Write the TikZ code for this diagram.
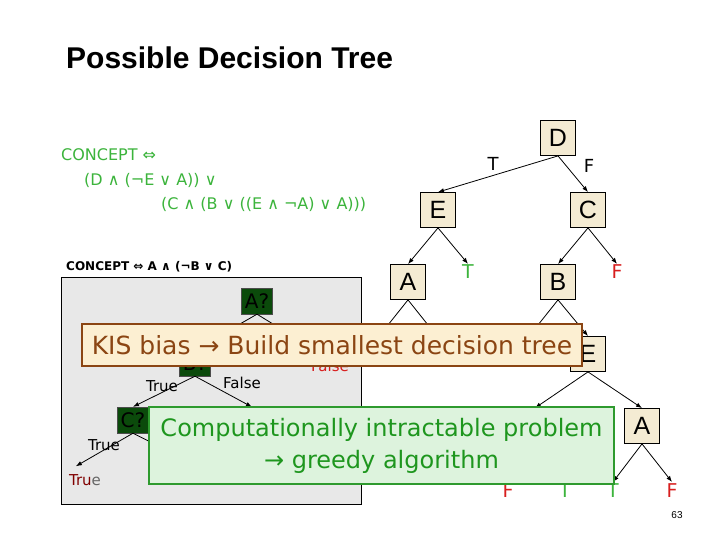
\documentclass[tikz,border=0pt]{standalone}
\usepackage{fontspec}
\setmainfont{Liberation Sans}
\newfontfamily\slidefont{DejaVu Sans}
\usetikzlibrary{arrows.meta, positioning, calc}
\definecolor{Formula_Green}{HTML}{3CB43C}
\definecolor{Leaf_Green}{HTML}{3CB43C}
\definecolor{Leaf_Red}{HTML}{D81E1E}
\definecolor{Leaf_DarkRed}{HTML}{800000}
\definecolor{Box_Cream}{HTML}{F4EBD3}
\definecolor{Q_Green}{HTML}{0B4A0B}
\definecolor{Panel_Gray}{HTML}{E8E8E8}
\definecolor{KIS_Fill}{HTML}{FCEFD2}
\definecolor{KIS_Brown}{HTML}{8B4513}
\definecolor{Greedy_Fill}{HTML}{DDF3DD}
\definecolor{Greedy_Line}{HTML}{2E9A2E}
\definecolor{Greedy_Text}{HTML}{1E961E}

\begin{document}
\begin{tikzpicture}[x=1pt, y=-1pt,
  tbox/.style={draw, fill=Box_Cream, minimum size=35pt, inner sep=0pt, line width=0.8pt,
    font=\fontsize{25}{25}\selectfont},
  qbox/.style={draw=black!70, fill=Q_Green, minimum width=31pt, minimum height=26pt, inner sep=0pt,
    font=\slidefont\fontsize{20}{20}\selectfont},
  leaf/.style={inner sep=1pt, font=\slidefont\fontsize{19}{19}\selectfont},
  elabel/.style={inner sep=1pt, font=\slidefont\fontsize{15}{15}\selectfont},
  tlabel/.style={inner sep=1pt, font=\slidefont\fontsize{18}{18}\selectfont},
  formula/.style={anchor=base west, inner sep=0pt, text=Formula_Green, font=\slidefont\fontsize{16}{16}\selectfont},
  edge/.style={-{Latex[length=6pt,width=4.5pt]}, line width=0.8pt}]
  \useasboundingbox[fill=white] (0,0) rectangle (720,540);

  \node[anchor=base west, inner sep=0pt, font=\bfseries\fontsize{30}{30}\selectfont] (title) at (66,69) {Possible Decision Tree};

  \node[formula] (f1) at (61,161) {CONCEPT ⇔};
  \node[formula] (f2) at (84,186) {(D ∧ (¬E ∨ A)) ∨};
  \node[formula] (f3) at (161,210) {(C ∧ (B ∨ ((E ∧ ¬A) ∨ A)))};

  \node[anchor=base west, inner sep=0pt, font=\slidefont\bfseries\fontsize{12}{12}\selectfont] (concept) at (66,270) {CONCEPT ⇔ A ∧ (¬B ∨ C)};

  \draw[fill=Panel_Gray, line width=0.8pt] (61,277) rectangle (361,504);
  \node[qbox] (qA) at (257,301) {A?};
  \node[qbox] (qB) at (195,363) {B?};
  \node[qbox] (qC) at (133,420) {C?};
  \node[leaf, text=Leaf_Red, font=\slidefont\fontsize{15}{15}\selectfont] (fA) at (330,366) {False};
  \node[leaf, font=\slidefont\fontsize{15}{15}\selectfont] (tC) at (85,480) {\textcolor{Leaf_DarkRed}{Tru}\textcolor{black!60}{e}};
  \node[elabel] (lBT) at (162,386) {True};
  \node[elabel] (lBF) at (242,383) {False};
  \node[elabel] (lCT) at (104,445) {True};
  \coordinate (bR) at (252,407);
  \coordinate (cR) at (190,462);
  \draw[edge] (qA.south) -- (qB.north);
  \draw[edge] (qA.south) -- (fA.north);
  \draw[edge] (qB.south) -- (qC.north);
  \draw[edge] (qB.south) -- (bR);
  \draw[edge] (qC.south) -- ($(tC.north west)+(8,-7)$);
  \draw[edge] (qC.south) -- (cR);

  \node[tbox] (D) at (558,138) {D};
  \node[tbox] (E) at (438,210) {E};
  \node[tbox] (C) at (588,210) {C};
  \node[tbox] (A) at (408,282) {A};
  \node[tbox] (B) at (558,282) {B};
  \node[tbox] (E2) at (588,354) {E};
  \node[tbox] (A2) at (642,426) {A};
  \node[leaf, text=Leaf_Green] (tE) at (468,272) {T};
  \node[leaf, text=Leaf_Red] (fC) at (617,272) {F};
  \node[leaf, text=Leaf_Red, anchor=base] (fA2) at (672,497) {F};
  \node[leaf, text=Leaf_Green, anchor=base] (tA2) at (613,497) {T};
  \node[leaf, text=Leaf_Green, anchor=base] (tX) at (565,497) {T};
  \node[leaf, text=Leaf_Red, anchor=base] (fX) at (508,497) {F};
  \node[tlabel] (lT) at (493,164) {T};
  \node[tlabel] (lF) at (589,166) {F};
  \coordinate (aL) at (380,335);
  \coordinate (aR) at (436,335);
  \coordinate (bL) at (530,335);
  \coordinate (eL) at (535,408);
  \draw[edge] (D.south) -- (E.north);
  \draw[edge] (D.south) -- (C.north);
  \draw[edge] (E.south) -- (A.north);
  \draw[edge] (E.south) -- (tE.north);
  \draw[edge] (C.south) -- (B.north);
  \draw[edge] (C.south) -- (fC.north);
  \draw[edge] (A.south) -- (aL);
  \draw[edge] (A.south) -- (aR);
  \draw[edge] (B.south) -- (bL);
  \draw[edge] (B.south) -- (E2.north);
  \draw[edge] (E2.south) -- (eL);
  \draw[edge] (E2.south) -- (A2.north);
  \draw[edge] (A2.south) -- (tA2.north);
  \draw[edge] (A2.south) -- (fA2.north);

  \node[draw=KIS_Brown, line width=2pt, fill=KIS_Fill, minimum width=500pt, minimum height=42pt, inner sep=0pt,
    text=KIS_Brown, font=\slidefont\fontsize{25}{25}\selectfont] (kis) at (332,345) {KIS bias → Build smallest decision tree};
  \node[draw=Greedy_Line, line width=2pt, fill=Greedy_Fill, minimum width=465pt, minimum height=77pt, inner sep=0pt,
    align=center, text=Greedy_Text, font=\slidefont\fontsize{24}{32}\selectfont] (greedy) at (381.5,445.5) {Computationally intractable problem\\→ greedy algorithm};

  \node[inner sep=0pt, font=\fontsize{10}{10}\selectfont] (page) at (677,515) {63};
\end{tikzpicture}
\end{document}
